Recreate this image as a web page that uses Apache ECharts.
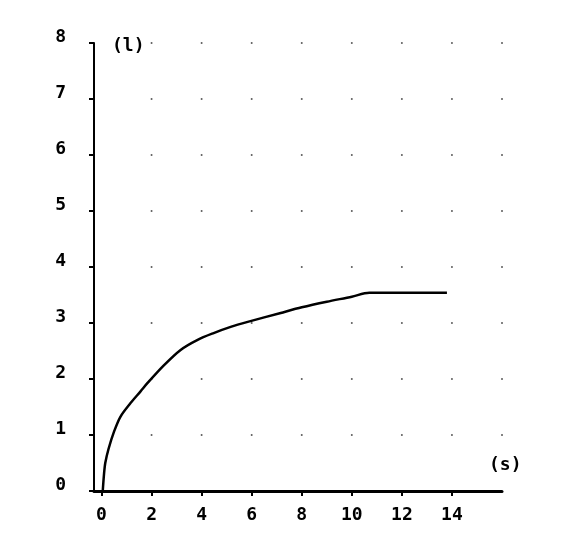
<!DOCTYPE html>
<html>
<head>
<meta charset="utf-8">
<script src="https://cdn.jsdelivr.net/npm/echarts@6/dist/echarts.min.js"></script>
<style>
  html, body { margin: 0; padding: 0; background: #fff; }
  #chart { width: 588px; height: 546px; }
</style>
</head>
<body>
<div id="chart"></div>
<script>
  // curve (time s, value l)
  var timeS = [0.05, 0.1, 0.15, 0.28, 0.5, 0.76, 1.16, 1.56, 1.84, 2.48, 3.16, 3.84, 4.48, 5.16, 5.84, 7.16, 8.0, 9.0, 10.0, 10.7, 12.0, 13.8];
  var valueL = [0, 0.3, 0.5, 0.75, 1.06, 1.33, 1.57, 1.78, 1.93, 2.24, 2.52, 2.7, 2.82, 2.93, 3.02, 3.18, 3.28, 3.38, 3.47, 3.54, 3.54, 3.54];
  var xTickValues = [0, 2, 4, 6, 8, 10, 12, 14];
  var dotX = [2, 4, 6, 8, 10, 12, 14, 16];
  var dotY = [1, 2, 3, 4, 5, 6, 7, 8];

  var font = 'DejaVu Sans Mono';
  var curve = timeS.map(function (t, i) { return [t, valueL[i]]; });
  var dots = [];
  dotX.forEach(function (x) {
    dotY.forEach(function (y) { dots.push([x, y]); });
  });

  var myChart = echarts.init(document.getElementById('chart'));
  myChart.setOption({
    animation: false,
    backgroundColor: '#fff',
    grid: { left: 94, right: 86, top: 43, bottom: 55, containLabel: false },
    xAxis: {
      type: 'value',
      min: -0.3,
      max: 16,
      axisLine: { show: true, onZero: false, lineStyle: { color: '#000', width: 3 } },
      axisTick: { show: true, customValues: xTickValues, length: 5, lineStyle: { color: '#000', width: 2 } },
      axisLabel: {
        customValues: xTickValues, margin: 15, color: '#000',
        fontFamily: font, fontWeight: 'bold', fontSize: 18
      },
      splitLine: { show: false }
    },
    yAxis: {
      type: 'value',
      min: 0,
      max: 8,
      interval: 1,
      axisLine: { show: true, onZero: false, lineStyle: { color: '#000', width: 2 } },
      axisTick: { show: true, length: 5, lineStyle: { color: '#000', width: 2 } },
      axisLabel: {
        margin: 28, color: '#000', fontFamily: font, fontWeight: 'bold', fontSize: 18,
        verticalAlign: 'bottom', lineHeight: 11
      },
      splitLine: { show: false }
    },
    graphic: [
      { type: 'text', left: 112, top: 37, style: { text: '(l)', fill: '#000', font: 'bold 18px "DejaVu Sans Mono"' } },
      { type: 'text', left: 489, top: 456, style: { text: '(s)', fill: '#000', font: 'bold 18px "DejaVu Sans Mono"' } }
    ],
    series: [
      {
        type: 'scatter',
        data: dots,
        symbolSize: 2,
        itemStyle: { color: '#333' },
        silent: true
      },
      {
        type: 'line',
        data: curve,
        showSymbol: false,
        smooth: 0.3,
        lineStyle: { color: '#000', width: 2.5 }
      }
    ]
  });
</script>
</body>
</html>
